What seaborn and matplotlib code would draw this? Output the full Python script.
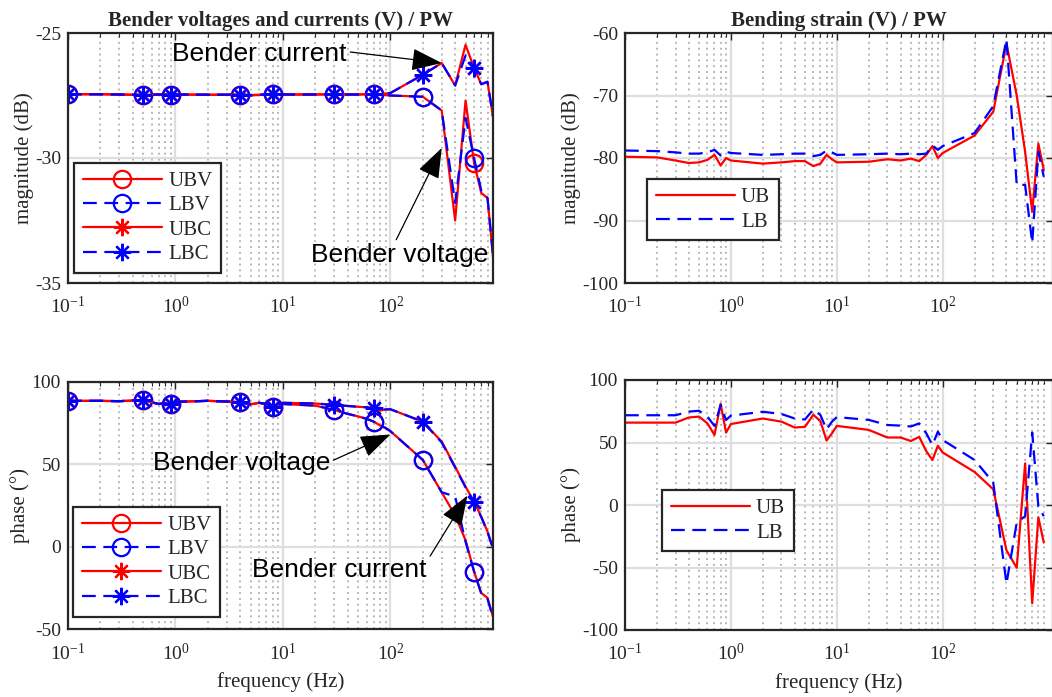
import numpy as np
import pandas as pd
import matplotlib
matplotlib.use('Agg')
import matplotlib.pyplot as plt
import seaborn as sns

# ── Data ──────────────────────────────────────────────────────────────────────
freq = [0.1, 0.2, 0.3, 0.4, 0.5, 0.6, 0.7, 0.8, 0.9,
        1, 2, 3, 4, 5, 6, 7, 8, 9,
        10, 20, 30, 40, 50, 60, 70, 80, 90,
        100, 200, 300, 400, 500, 600, 700, 800, 900]

# bender voltages / currents, magnitude (dB)
ubv_mag = [-27.45, -27.45, -27.46, -27.47, -27.48, -27.47, -27.46, -27.47, -27.46,
           -27.46, -27.47, -27.47, -27.46, -27.50, -27.48, -27.46, -27.45, -27.46,
           -27.46, -27.46, -27.45, -27.46, -27.46, -27.45, -27.45, -27.47, -27.48,
           -27.50, -27.55, -28.10, -32.50, -27.70, -30.20, -31.40, -31.60, -33.95]
lbv_mag = [-27.45, -27.45, -27.46, -27.47, -27.48, -27.47, -27.46, -27.47, -27.46,
           -27.46, -27.47, -27.47, -27.46, -27.50, -27.48, -27.46, -27.45, -27.46,
           -27.46, -27.46, -27.45, -27.46, -27.46, -27.45, -27.45, -27.47, -27.48,
           -27.50, -27.55, -28.10, -31.80, -28.40, -30.00, -31.30, -31.60, -33.90]
ubc_mag = [-27.45, -27.45, -27.46, -27.47, -27.48, -27.47, -27.46, -27.47, -27.46,
           -27.46, -27.47, -27.47, -27.46, -27.48, -27.47, -27.46, -27.45, -27.46,
           -27.46, -27.46, -27.45, -27.46, -27.46, -27.45, -27.45, -27.45, -27.42,
           -27.40, -26.67, -26.20, -27.10, -25.47, -26.40, -27.05, -26.95, -28.35]
lbc_mag = [-27.45, -27.45, -27.46, -27.47, -27.48, -27.47, -27.46, -27.47, -27.46,
           -27.46, -27.47, -27.47, -27.46, -27.48, -27.47, -27.46, -27.45, -27.46,
           -27.46, -27.46, -27.45, -27.46, -27.46, -27.45, -27.45, -27.45, -27.42,
           -27.40, -26.67, -26.20, -27.10, -25.90, -26.40, -27.05, -26.95, -28.35]

# bender voltages / currents, phase (deg)
ubv_ph = [88.4, 88.4, 88.2, 88.6, 88.9, 87.5, 86.5, 87.0, 86.2,
          87.8, 88.4, 88.0, 87.6, 86.2, 87.2, 86.5, 84.8, 86.0,
          86.5, 85.5, 82.9, 80.5, 79.0, 77.5, 75.8, 73.5, 72.0,
          70.0, 52.6, 33.0, 19.0, 4.0, -15.0, -28.0, -31.0, -42.5]
lbv_ph = [88.4, 88.4, 88.2, 88.6, 88.9, 87.5, 86.5, 87.0, 86.2,
          87.8, 88.4, 88.0, 87.6, 86.2, 87.2, 86.5, 84.8, 86.0,
          86.5, 85.5, 82.9, 80.5, 79.0, 77.5, 75.8, 73.5, 72.0,
          70.0, 52.6, 33.0, 30.5, 3.0, -15.0, -28.5, -31.5, -43.0]
ubc_ph = [88.4, 88.4, 88.2, 88.6, 88.9, 87.5, 86.5, 87.0, 86.2,
          87.8, 88.4, 88.0, 87.6, 86.4, 87.2, 86.6, 84.9, 86.4,
          87.2, 86.8, 85.9, 85.3, 84.8, 84.5, 83.9, 82.5, 83.2,
          83.3, 75.8, 63.7, 48.5, 36.4, 27.3, 18.2, 9.2, -0.9]
lbc_ph = [88.4, 88.4, 88.2, 88.6, 88.9, 87.5, 86.5, 87.0, 86.2,
          87.8, 88.4, 88.0, 87.6, 86.4, 87.2, 86.6, 84.9, 86.4,
          87.2, 86.8, 85.9, 85.3, 84.8, 84.5, 83.9, 82.5, 83.2,
          83.3, 75.8, 63.2, 48.0, 36.0, 27.0, 18.0, 9.0, -1.2]

# bending strain, magnitude (dB)
ub_mag = [-79.8, -79.9, -80.4, -80.8, -80.7, -80.3, -79.5, -81.2, -80.0,
          -80.4, -80.9, -80.7, -80.5, -80.5, -81.3, -80.9, -79.5, -80.2,
          -80.7, -80.6, -80.2, -80.4, -80.1, -80.5, -79.5, -78.1, -80.0,
          -79.2, -76.4, -72.6, -61.7, -70.0, -79.0, -88.6, -77.7, -81.9]
lb_mag = [-78.8, -78.9, -79.1, -79.3, -79.3, -79.1, -78.7, -79.6, -79.0,
          -79.2, -79.5, -79.4, -79.3, -79.3, -79.7, -79.5, -78.8, -79.1,
          -79.5, -79.4, -79.3, -79.4, -79.3, -79.4, -79.3, -78.0, -78.7,
          -78.1, -76.0, -71.7, -61.0, -84.3, -84.3, -93.6, -79.0, -83.0]

# bending strain, phase (deg)
ub_ph = [65.9, 65.9, 65.9, 70.0, 70.7, 65.3, 56.0, 81.0, 57.9,
         64.8, 69.2, 66.7, 62.0, 62.5, 72.2, 67.0, 51.6, 57.3,
         63.3, 60.1, 54.0, 54.0, 51.2, 54.5, 43.0, 36.0, 47.4,
         42.0, 26.4, 12.6, -36.3, -50.2, 33.3, -78.5, -9.8, -30.0]
lb_ph = [71.8, 71.8, 71.8, 74.7, 75.4, 70.7, 63.2, 80.0, 68.0,
         71.5, 74.6, 72.8, 69.2, 68.4, 76.4, 72.0, 60.5, 66.7,
         70.3, 68.1, 64.0, 63.5, 62.8, 65.3, 57.3, 48.0, 58.7,
         52.0, 36.0, 18.0, -63.0, -14.0, -9.0, 58.0, -1.0, -9.0]

# ── Style ─────────────────────────────────────────────────────────────────────
sns.set_theme(style='white')
DARK = '#262626'
plt.rcParams.update({
    'font.family': ['Liberation Serif', 'DejaVu Serif'],
    'mathtext.fontset': 'custom',
    'mathtext.rm': 'Liberation Serif',
    'mathtext.it': 'Liberation Serif:italic',
    'axes.unicode_minus': False,
    'text.color': DARK,
    'axes.labelcolor': DARK,
})

W, H = 1052, 697
fig = plt.figure(figsize=(W / 100, H / 100), dpi=100)
fig.patch.set_facecolor('white')


def px_axes(l, t, r, b):
    return fig.add_axes([l / W, 1 - b / H, (r - l) / W, (b - t) / H])


ax_tl = px_axes(68, 33, 493, 283)
ax_bl = px_axes(68, 381.7, 493, 629.3)
ax_tr = px_axes(625, 33, 1053, 283)
ax_br = px_axes(625, 380, 1053, 630)

DASH = (0, (6.2, 3.4))
SANS = ['Liberation Sans', 'DejaVu Sans']


def style(ax, xmax, ylim, yticks):
    ax.set_xscale('log')
    ax.set_xlim(0.1, xmax)
    ax.set_xticks([0.1, 1, 10, 100])
    ax.set_ylim(ylim)
    ax.set_yticks(yticks)
    ax.tick_params(which='both', direction='in', top=True, right=True,
                   color=DARK, labelcolor=DARK, labelsize=14)
    ax.tick_params(which='major', length=5, width=1)
    ax.tick_params(which='minor', length=3, width=0.8)
    ax.tick_params(axis='x', which='major', pad=9.5)
    ax.tick_params(axis='y', which='major', pad=5)
    ax.grid(which='major', color='#dedede', lw=1.6, ls='-')
    ax.grid(which='minor', axis='x', color='#b8b8b8', lw=1.4, ls=(0, (1, 2)))
    ax.set_axisbelow(True)
    for s in ax.spines.values():
        s.set_linewidth(1.6)
        s.set_color(DARK)


def four_lines(ax, uv, lv, uc, lc):
    kw = dict(ax=ax, lw=1.6, markevery=4, ms=12.5, mew=1.6, errorbar=None)
    sns.lineplot(x=freq, y=uv, color='red', marker='o', mfc='none', mec='red',
                 label='UBV', **kw)
    sns.lineplot(x=freq, y=lv, color='blue', marker='o', mfc='none', mec='blue',
                 ls=DASH, label='LBV', **kw)
    sns.lineplot(x=freq, y=uc, color='red', marker=(8, 2, 0), mec='red',
                 label='UBC', **kw)
    sns.lineplot(x=freq, y=lc, color='blue', marker=(8, 2, 0), mec='blue',
                 ls=DASH, label='LBC', **kw)


def two_lines(ax, u, l):
    sns.lineplot(x=freq, y=u, ax=ax, color='red', lw=1.6, label='UB', errorbar=None)
    sns.lineplot(x=freq, y=l, ax=ax, color='blue', lw=1.6, ls=DASH, label='LB',
                 errorbar=None)


def legend(ax, x, y):
    leg = ax.legend(loc='upper left', bbox_to_anchor=(x, y), borderaxespad=0,
                    fontsize=15, handlelength=3.8, handletextpad=0.3,
                    labelspacing=0.22, borderpad=0.42, numpoints=1,
                    fancybox=False, framealpha=1, edgecolor=DARK)
    leg.get_frame().set_linewidth(1.6)
    for t in leg.get_texts():
        t.set_color(DARK)


def arrow_note(ax, text, xy, xytext, relpos):
    ax.annotate(text, xy=xy, xycoords='data', xytext=xytext,
                textcoords='axes fraction', ha='center', va='center',
                fontsize=19, family=SANS, color='black',
                arrowprops=dict(arrowstyle='-|>,head_length=0.95,head_width=0.35',
                                mutation_scale=20, color='black', lw=0.9,
                                relpos=relpos, shrinkA=0, shrinkB=0))


# ── Top-left: bender magnitude ────────────────────────────────────────────────
four_lines(ax_tl, ubv_mag, lbv_mag, ubc_mag, lbc_mag)
style(ax_tl, 900, (-35, -25), [-35, -30, -25])
ax_tl.set_ylabel('magnitude (dB)', fontsize=15, labelpad=1)
ax_tl.set_title('Bender voltages and currents (V) / PW', fontsize=15,
                fontweight='bold', pad=5)
legend(ax_tl, 0.014, 0.48)
arrow_note(ax_tl, 'Bender current', (300, -26.2), (0.451, 0.916), (1, 0.6))
arrow_note(ax_tl, 'Bender voltage', (300, -29.6), (0.781, 0.112), (0.47, 1))

# ── Bottom-left: bender phase ─────────────────────────────────────────────────
four_lines(ax_bl, ubv_ph, lbv_ph, ubc_ph, lbc_ph)
style(ax_bl, 900, (-50, 100), [-50, 0, 50, 100])
ax_bl.set_ylabel('phase (°)', fontsize=15, labelpad=1)
ax_bl.set_xlabel('frequency (Hz)', fontsize=15, labelpad=6)
legend(ax_bl, 0.012, 0.494)
arrow_note(ax_bl, 'Bender voltage', (100, 68), (0.408, 0.672), (1, 0.55))
arrow_note(ax_bl, 'Bender current', (520, 31), (0.639, 0.24), (1, 0.85))

# ── Top-right: bending strain magnitude ───────────────────────────────────────
two_lines(ax_tr, ub_mag, lb_mag)
style(ax_tr, 1100, (-100, -60), [-100, -90, -80, -70, -60])
ax_tr.set_ylabel('magnitude (dB)', fontsize=15, labelpad=1)
ax_tr.set_title('Bending strain (V) / PW', fontsize=15, fontweight='bold', pad=5)
legend(ax_tr, 0.051, 0.416)

# ── Bottom-right: bending strain phase ────────────────────────────────────────
two_lines(ax_br, ub_ph, lb_ph)
style(ax_br, 1100, (-100, 100), [-100, -50, 0, 50, 100])
ax_br.set_ylabel('phase (°)', fontsize=15, labelpad=1)
ax_br.set_xlabel('frequency (Hz)', fontsize=15, labelpad=6)
legend(ax_br, 0.086, 0.56)

fig.savefig('out.png', dpi=100, facecolor='white')
